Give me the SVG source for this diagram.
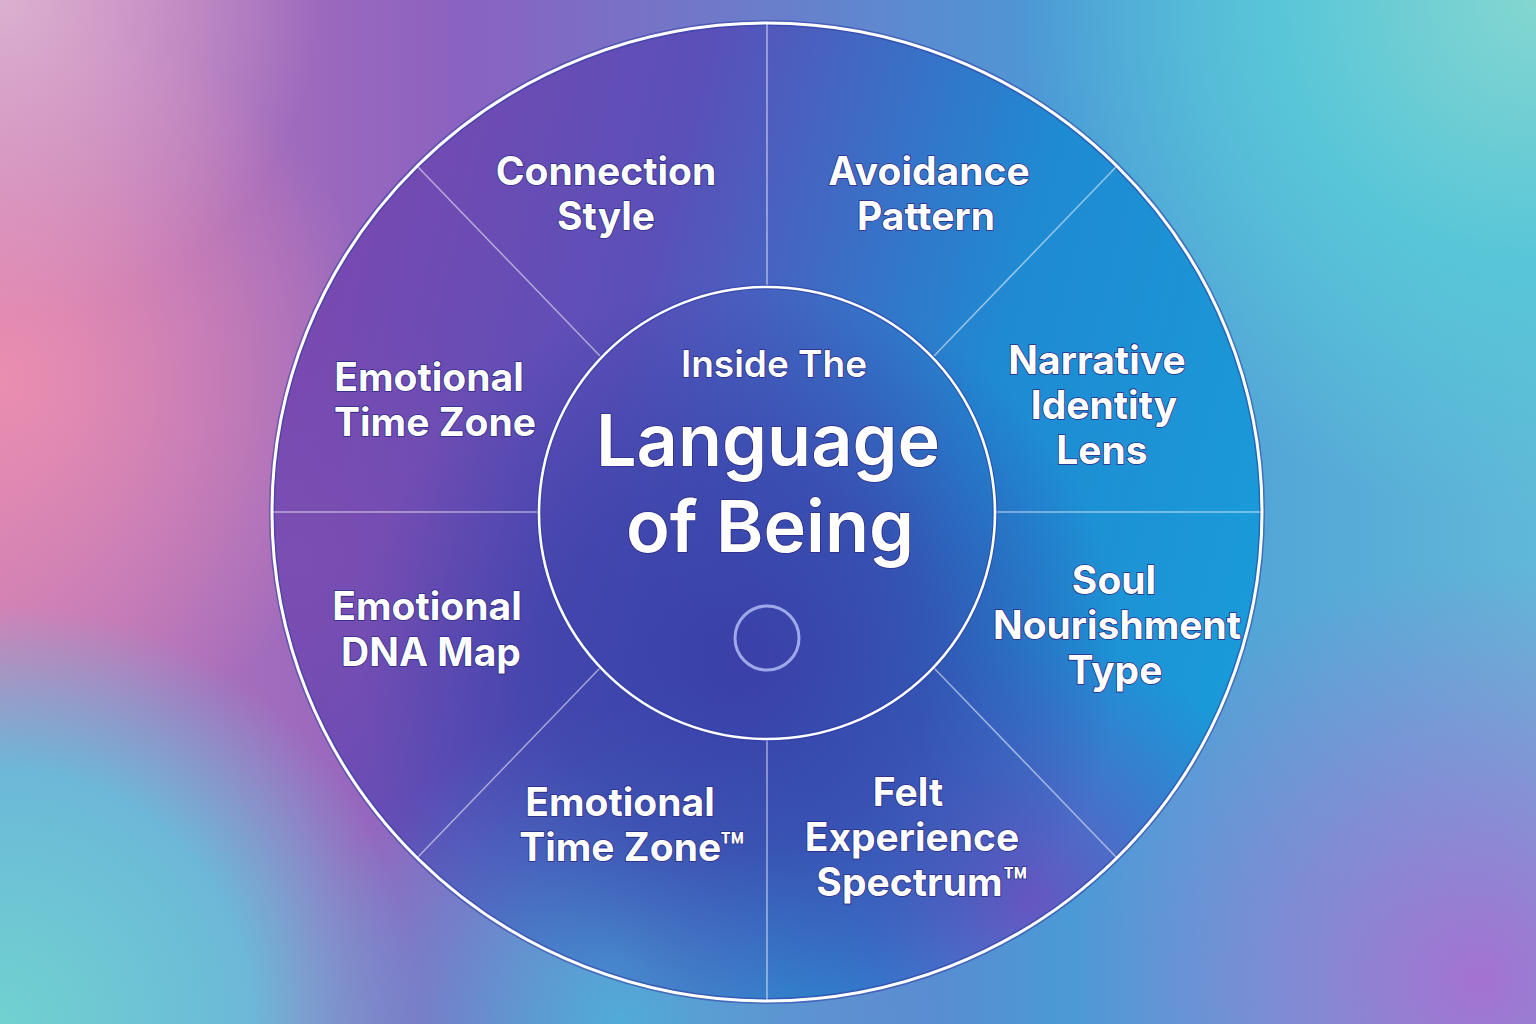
<svg xmlns="http://www.w3.org/2000/svg" width="1536" height="1024" viewBox="0 0 1536 1024">
<defs>
<linearGradient id="bgBase" x1="0" y1="0" x2="1" y2="0">
<stop offset="0" stop-color="#c47ab8"/>
<stop offset="0.3" stop-color="#8a62c0"/>
<stop offset="0.7" stop-color="#4a9ad6"/>
<stop offset="1" stop-color="#60b8d8"/>
</linearGradient>
<radialGradient id="bgPink" cx="0" cy="380" r="380" gradientUnits="userSpaceOnUse">
<stop offset="0" stop-color="#ea8eb0"/><stop offset="1" stop-color="#ea8eb0" stop-opacity="0"/>
</radialGradient>
<radialGradient id="bgTL" cx="0" cy="0" r="320" gradientUnits="userSpaceOnUse">
<stop offset="0" stop-color="#dcb0d0"/><stop offset="1" stop-color="#dcb0d0" stop-opacity="0"/>
</radialGradient>
<radialGradient id="bgTR" cx="1536" cy="0" r="520" gradientUnits="userSpaceOnUse">
<stop offset="0" stop-color="#84d6d0"/><stop offset="0.5" stop-color="#58c6d8"/><stop offset="1" stop-color="#58c6d8" stop-opacity="0"/>
</radialGradient>
<radialGradient id="bgBL" cx="0" cy="1024" r="420" gradientUnits="userSpaceOnUse">
<stop offset="0" stop-color="#70d2d0"/><stop offset="0.6" stop-color="#6cb8d8"/><stop offset="1" stop-color="#6cb8d8" stop-opacity="0"/>
</radialGradient>
<radialGradient id="bgBR" cx="1480" cy="980" r="420" gradientUnits="userSpaceOnUse">
<stop offset="0" stop-color="#a472d2"/><stop offset="1" stop-color="#a472d2" stop-opacity="0"/>
</radialGradient>
<radialGradient id="bgBC" cx="620" cy="1024" r="320" gradientUnits="userSpaceOnUse">
<stop offset="0" stop-color="#50acd8"/><stop offset="1" stop-color="#50acd8" stop-opacity="0"/>
</radialGradient>
<linearGradient id="wheelBase" x1="272" y1="300" x2="1262" y2="560" gradientUnits="userSpaceOnUse">
<stop offset="0" stop-color="#7c48b0"/>
<stop offset="0.35" stop-color="#5a50b8"/>
<stop offset="0.7" stop-color="#1f8ad2"/>
<stop offset="1" stop-color="#1a9ad8"/>
</linearGradient>
<radialGradient id="wheelDark" cx="740" cy="660" r="380" gradientUnits="userSpaceOnUse">
<stop offset="0" stop-color="#3a40a8"/><stop offset="0.5" stop-color="#3a40a8" stop-opacity="0.7"/><stop offset="1" stop-color="#3a40a8" stop-opacity="0"/>
</radialGradient>
<radialGradient id="wheelBL" cx="620" cy="960" r="260" gradientUnits="userSpaceOnUse">
<stop offset="0" stop-color="#4a96d4"/><stop offset="1" stop-color="#4a96d4" stop-opacity="0"/>
</radialGradient>
<radialGradient id="wheelBR" cx="1030" cy="900" r="260" gradientUnits="userSpaceOnUse">
<stop offset="0" stop-color="#6656c0"/><stop offset="1" stop-color="#6656c0" stop-opacity="0"/>
</radialGradient>
<radialGradient id="wheelL" cx="300" cy="560" r="260" gradientUnits="userSpaceOnUse">
<stop offset="0" stop-color="#7a4eb2"/><stop offset="1" stop-color="#7a4eb2" stop-opacity="0"/>
</radialGradient>
<clipPath id="wheelClip"><ellipse cx="767" cy="512" rx="495" ry="489"/></clipPath>
</defs>
<style>
.lbl{font-family:Inter,"Open Sans","DejaVu Sans",sans-serif;font-weight:700;font-size:39px;fill:#ffffff;text-anchor:middle;stroke:#2c2c86;stroke-width:1.6px;paint-order:stroke;}
.ttl{font-family:Inter,"Open Sans","DejaVu Sans",sans-serif;font-weight:600;fill:#ffffff;text-anchor:middle;stroke:#2c2c86;stroke-width:1.6px;paint-order:stroke;}
.spoke{stroke:#ffffff;stroke-opacity:0.5;stroke-width:1.6;fill:none;}
</style>

<g id="background">
<rect width="1536" height="1024" fill="url(#bgBase)"/>
<rect width="1536" height="1024" fill="url(#bgPink)"/>
<rect width="1536" height="1024" fill="url(#bgTL)"/>
<rect width="1536" height="1024" fill="url(#bgTR)"/>
<rect width="1536" height="1024" fill="url(#bgBL)"/>
<rect width="1536" height="1024" fill="url(#bgBR)"/>
<rect width="1536" height="1024" fill="url(#bgBC)"/>
</g>

<g id="wheel">
<g clip-path="url(#wheelClip)">
<rect width="1536" height="1024" fill="url(#wheelBase)"/>
<rect width="1536" height="1024" fill="url(#wheelL)"/>
<rect width="1536" height="1024" fill="url(#wheelBL)"/>
<rect width="1536" height="1024" fill="url(#wheelBR)"/>
<rect width="1536" height="1024" fill="url(#wheelDark)"/>
</g>
<ellipse cx="767" cy="512" rx="495" ry="489" fill="none" stroke="#2a3aa0" stroke-width="6" stroke-opacity="0.5"/>
<ellipse cx="767" cy="512" rx="495" ry="489" fill="none" stroke="#ffffff" stroke-width="3"/>
</g>

<g id="connectors">
<line class="spoke" x1="767" y1="24" x2="767" y2="285"/>
<line class="spoke" x1="767" y1="740" x2="767" y2="1000"/>
<line class="spoke" x1="273" y1="512" x2="539" y2="512"/>
<line class="spoke" x1="996" y1="512" x2="1261" y2="512"/>
<line class="spoke" x1="418" y1="167" x2="600" y2="356"/>
<line class="spoke" x1="1116" y1="167" x2="934" y2="356"/>
<line class="spoke" x1="418" y1="857" x2="600" y2="668"/>
<line class="spoke" x1="1116" y1="857" x2="934" y2="668"/>
</g>

<g id="center">
<ellipse cx="767" cy="513" rx="228" ry="226" fill="none" stroke="#2a3aa0" stroke-width="5" stroke-opacity="0.5"/>
<ellipse cx="767" cy="513" rx="228" ry="226" fill="none" stroke="#ffffff" stroke-width="2.6"/>
<text class="ttl" x="774" y="377" font-size="37">Inside The</text>
<text class="ttl" x="768" y="466" font-size="72">Language</text>
<text class="ttl" x="770" y="552" font-size="72">of Being</text>
<circle cx="767" cy="638" r="32" fill="none" stroke="#a8b4f0" stroke-width="3" stroke-opacity="0.9"/>
</g>

<g id="node-connection-style">
<text class="lbl" x="606" y="185">Connection</text>
<text class="lbl" x="606" y="230">Style</text>
</g>
<g id="node-avoidance-pattern">
<text class="lbl" x="929" y="185">Avoidance</text>
<text class="lbl" x="926" y="230">Pattern</text>
</g>
<g id="node-narrative-identity-lens">
<text class="lbl" x="1097" y="374">Narrative</text>
<text class="lbl" x="1104" y="419">Identity</text>
<text class="lbl" x="1102" y="464">Lens</text>
</g>
<g id="node-soul-nourishment-type">
<text class="lbl" x="1114" y="594">Soul</text>
<text class="lbl" x="1117" y="639">Nourishment</text>
<text class="lbl" x="1115" y="684">Type</text>
</g>
<g id="node-felt-experience-spectrum">
<text class="lbl" x="908" y="806">Felt</text>
<text class="lbl" x="912" y="851">Experience</text>
<text class="lbl" x="922" y="896">Spectrum™</text>
</g>
<g id="node-emotional-time-zone-tm">
<text class="lbl" x="620" y="816">Emotional</text>
<text class="lbl" x="632" y="861">Time Zone™</text>
</g>
<g id="node-emotional-dna-map">
<text class="lbl" x="427" y="620">Emotional</text>
<text class="lbl" x="431" y="666">DNA Map</text>
</g>
<g id="node-emotional-time-zone">
<text class="lbl" x="429" y="391">Emotional</text>
<text class="lbl" x="435" y="436">Time Zone</text>
</g>
</svg>
